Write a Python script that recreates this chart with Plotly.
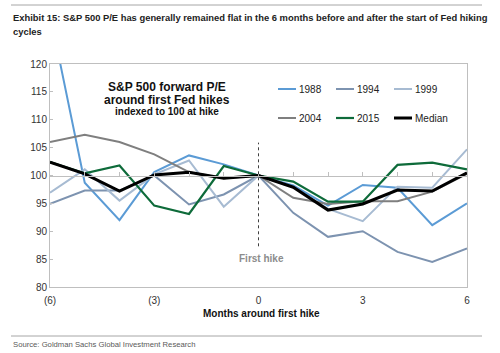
import plotly.graph_objects as go

# ---------------- data ----------------
months = [-6, -5, -4, -3, -2, -1, 0, 1, 2, 3, 4, 5, 6]
x_tickvals = [-6, -3, 0, 3, 6]
x_ticktext = ["(6)", "(3)", "0", "3", "6"]
y_tickvals = [80, 85, 90, 95, 100, 105, 110, 115, 120]

series_names = ["1988", "1994", "1999", "2004", "2015", "Median"]
pe_1988 = [129.0, 98.7, 92.0, 100.6, 103.6, 102.0, 100, 98.2, 94.6, 98.3, 97.8, 91.1, 95.0]
pe_1994 = [94.9, 97.3, 97.3, 100.0, 94.8, 96.6, 100, 93.3, 89.0, 90.0, 86.3, 84.5, 86.9]
pe_1999 = [96.9, 101.1, 95.5, 100.2, 102.7, 94.4, 100, 97.9, 94.0, 91.8, 98.0, 97.8, 104.7]
pe_2004 = [106.0, 107.3, 106.0, 103.8, 100.6, 99.5, 100, 96.0, 94.9, 95.4, 95.4, 97.1, 100.3]
pe_2015 = [102.4, 100.4, 101.8, 94.6, 93.1, 101.7, 100, 98.9, 95.3, 95.3, 101.9, 102.3, 101.1]
pe_median = [102.4, 100.3, 97.2, 100.1, 100.6, 99.5, 100, 97.9, 93.8, 94.9, 97.4, 97.2, 100.5]
first_hike_month = 0

# ---------------- styles ----------------
colors = ["#5B9BD5", "#7D93B0", "#A7BBD2", "#7F7F7F", "#0E6B3A", "#000000"]
widths = [2, 2, 2, 2, 2.2, 3]
W, H = 500, 353
L, R, T, B = 50, 33, 64, 66
PW, PH = W - L - R, H - T - B

def px(xp):
    return (xp - L) / PW

def py(yp):
    return (H - B - yp) / PH

ARIAL = "Liberation Sans, Arial, sans-serif"

all_series = [pe_1988, pe_1994, pe_1999, pe_2004, pe_2015, pe_median]

fig = go.Figure()
for name, vals, c, w in zip(series_names, all_series, colors, widths):
    fig.add_trace(go.Scatter(x=months, y=vals, mode="lines", name=name,
                             line=dict(color=c, width=w), showlegend=False,
                             hoverinfo="skip"))
# empty trace to carry the axis drawn at 100
fig.add_trace(go.Scatter(x=[], y=[], xaxis="x2", showlegend=False))

fig.update_layout(
    width=W, height=H,
    margin=dict(l=L, r=R, t=T, b=B),
    paper_bgcolor="white", plot_bgcolor="white",
    font=dict(family=ARIAL, color="#333333"),
    xaxis=dict(range=[-6, 6], tickvals=x_tickvals, ticktext=x_ticktext,
               showline=True, mirror=True, linecolor="#BFBFBF", linewidth=1,
               showgrid=False, zeroline=False, ticks="", ticklabelstandoff=4,
               tickfont=dict(size=10, color="#333333")),
    xaxis2=dict(overlaying="x", matches="x", anchor="free", position=0.5,
                showline=True, linecolor="#BFBFBF", linewidth=1,
                ticks="inside", ticklen=4, tickcolor="#BFBFBF",
                tick0=0, dtick=1, showticklabels=False,
                showgrid=False, zeroline=False),
    yaxis=dict(range=[80, 120], tickvals=y_tickvals,
               showline=True, mirror=True, linecolor="#BFBFBF", linewidth=1,
               showgrid=False, zeroline=False, ticks="inside", ticklen=3,
               tickcolor="#BFBFBF", tickfont=dict(size=10, color="#333333")),
)

ann = []
shapes = []

# title
ann.append(dict(x=px(11), y=py(17), xref="paper", yref="paper", xanchor="left",
                yanchor="middle", showarrow=False, align="left",
                text="<b>Exhibit 15: S&P 500 P/E has generally remained flat in the 6 months before and after the start of Fed hiking</b>",
                font=dict(family=ARIAL, size=9.4, color="#222222")))
ann.append(dict(x=px(11), y=py(31), xref="paper", yref="paper", xanchor="left",
                yanchor="middle", showarrow=False, align="left",
                text="<b>cycles</b>",
                font=dict(family=ARIAL, size=9.4, color="#222222")))
shapes.append(dict(type="line", xref="paper", yref="paper", x0=px(11), x1=px(482),
                   y0=py(5), y1=py(5), line=dict(color="#A6A6A6", width=1)))
shapes.append(dict(type="line", xref="paper", yref="paper", x0=px(11), x1=px(482),
                   y0=py(336), y1=py(336), line=dict(color="#A6A6A6", width=1)))
ann.append(dict(x=px(11), y=py(345), xref="paper", yref="paper", xanchor="left",
                yanchor="middle", showarrow=False,
                text="Source: Goldman Sachs Global Investment Research",
                font=dict(family=ARIAL, size=7.7, color="#595959")))

# chart text block
for txt, yp, sz in [("S&P 500 forward P/E", 87, 12), ("around first Fed hikes", 99.5, 12),
                    ("indexed to 100 at hike", 111.5, 10)]:
    ann.append(dict(x=px(167), y=py(yp), xref="paper", yref="paper", xanchor="center",
                    yanchor="middle", showarrow=False, text="<b>" + txt + "</b>",
                    font=dict(family=ARIAL, size=sz, color="#111111")))

# x axis title
ann.append(dict(x=px(261), y=py(313), xref="paper", yref="paper", xanchor="center",
                yanchor="middle", showarrow=False, text="<b>Months around first hike</b>",
                font=dict(family=ARIAL, size=10, color="#111111")))

# first hike marker
shapes.append(dict(type="line", xref="x", yref="y", x0=first_hike_month, x1=first_hike_month,
                   y0=87.3, y1=105.9, line=dict(color="#404040", width=1, dash="dot")))
ann.append(dict(x=first_hike_month, y=py(258), xref="x", yref="paper", xanchor="center",
                yanchor="middle", showarrow=False, text="<b>First hike</b>", xshift=3,
                font=dict(family=ARIAL, size=10, color="#8C8C8C")))

# legend (manual, 3 columns x 2 rows)
col_x = [278, 336, 394]
row_y = [89, 118]
for i, (name, c, w) in enumerate(zip(series_names, colors, widths)):
    cx = col_x[i % 3]
    ry = row_y[i // 3]
    shapes.append(dict(type="line", xref="paper", yref="paper", x0=px(cx), x1=px(cx + 18),
                       y0=py(ry), y1=py(ry), line=dict(color=c, width=w)))
    ann.append(dict(x=px(cx + 18.5), y=py(ry), xref="paper", yref="paper", xanchor="left",
                    yanchor="middle", showarrow=False, text=name,
                    font=dict(family=ARIAL, size=10, color="#222222")))

fig.update_layout(annotations=ann, shapes=shapes)
fig.write_html("out.html")
